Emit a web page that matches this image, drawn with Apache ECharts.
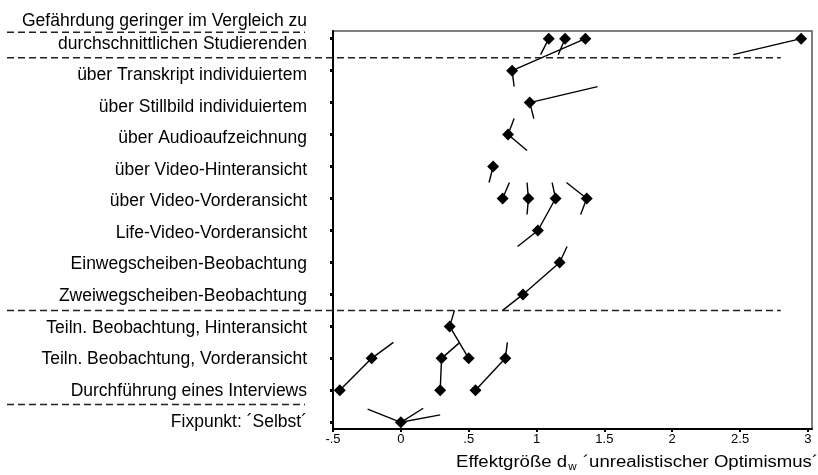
<!DOCTYPE html>
<html>
<head>
<meta charset="utf-8">
<script src="https://cdn.jsdelivr.net/npm/echarts@6/dist/echarts.min.js"></script>
<style>
html,body{margin:0;padding:0;background:#fff;}
#chart{width:818px;height:475px;}
</style>
</head>
<body>
<div id="chart"></div>
<script>
// Row labels, bottom (0) to top (12)
const rowLabels = [
  'Fixpunkt: ´Selbst´',
  'Durchführung eines Interviews',
  'Teiln. Beobachtung, Vorderansicht',
  'Teiln. Beobachtung, Hinteransicht',
  'Zweiwegscheiben-Beobachtung',
  'Einwegscheiben-Beobachtung',
  'Life-Video-Vorderansicht',
  'über Video-Vorderansicht',
  'über Video-Hinteransicht',
  'über Audioaufzeichnung',
  'über Stillbild individuiertem',
  'über Transkript individuiertem',
  'durchschnittlichen Studierenden'
];
const topLabelFirstLine = 'Gefährdung geringer im Vergleich zu';

// x tick values and their printed labels
const xTicks = [-0.5, 0, 0.5, 1, 1.5, 2, 2.5, 3];
const xTickLabels = ['-.5', '0', '.5', '1', '1.5', '2', '2.5', '3'];

// Effect sizes (diamonds) per row, row index = position in array
const rowEffects = [
  [0.00],
  [-0.45, 0.29, 0.55],
  [-0.215, 0.30, 0.50, 0.77],
  [0.36],
  [0.90],
  [1.17],
  [1.01],
  [0.75, 0.94, 1.14, 1.37],
  [0.68],
  [0.79],
  [0.95],
  [0.82],
  [1.09, 1.21, 1.36, 2.95]
];

// connecting line pieces: [x1, row1, x2, row2]
const links = [
  [1.09, 12, 1.03, 11.5], [1.21, 12, 1.16, 11.5], [1.36, 12, 0.82, 11], [2.95, 12, 2.45, 11.5],
  [0.82, 11, 0.835, 10.5],
  [0.95, 10, 1.45, 10.5], [0.95, 10, 0.98, 9.5],
  [0.79, 9, 0.835, 9.5], [0.79, 9, 0.93, 8.5],
  [0.68, 8, 0.65, 7.5],
  [0.75, 7, 0.80, 7.5], [0.94, 7, 0.93, 7.5], [0.94, 7, 0.93, 6.5],
  [1.14, 7, 1.115, 7.5], [1.14, 7, 1.01, 6], [1.37, 7, 1.22, 7.5], [1.37, 7, 1.325, 6.5],
  [1.01, 6, 0.86, 5.5],
  [1.17, 5, 1.225, 5.5], [1.17, 5, 0.90, 4],
  [0.90, 4, 0.75, 3.5],
  [0.36, 3, 0.395, 3.5], [0.36, 3, 0.50, 2],
  [-0.215, 2, -0.055, 2.5], [-0.215, 2, -0.45, 1],
  [0.30, 2, 0.435, 2.5], [0.30, 2, 0.29, 1],
  [0.77, 2, 0.785, 2.5], [0.77, 2, 0.55, 1],
  [0, 0, -0.245, 0.41], [0, 0, 0.165, 0.44], [0, 0, 0.29, 0.23]
];

// group separators (row positions) and their right end (x value)
const separatorRows = [11.4, 3.5];
const separatorEndX = 2.8;
const shortSeparatorRows = [12.2, 0.56];

const FONT = 'Liberation Sans, Arial, sans-serif';
const rowIdx = rowLabels.map((_, i) => i);

const scatterData = [];
rowEffects.forEach((arr, r) => arr.forEach(x => scatterData.push([x, r])));

const chart = echarts.init(document.getElementById('chart'), null, {renderer: 'canvas'});

const option = {
  animation: false,
  backgroundColor: '#fff',
  grid: {
    left: 333, top: 31, width: 479, height: 398,
    show: true, borderColor: '#555', borderWidth: 1.5, backgroundColor: 'transparent'
  },
  xAxis: {
    type: 'value', min: -0.5, max: 3.03,
    splitLine: {show: false},
    axisLine: {show: true, onZero: false, lineStyle: {color: '#000', width: 2}},
    axisTick: {show: true, length: 3, lineStyle: {color: '#000', width: 2}, customValues: xTicks},
    axisLabel: {
      customValues: xTicks, margin: 4, color: '#000', fontSize: 13, fontFamily: FONT,
      formatter: v => { const i = xTicks.findIndex(t => Math.abs(t - v) < 1e-6); return i >= 0 ? xTickLabels[i] : ''; }
    }
  },
  yAxis: [
    {
      type: 'value', min: -0.21, max: 12.24,
      splitLine: {show: false},
      axisLine: {show: true, onZero: false, lineStyle: {color: '#000', width: 2}},
      axisTick: {show: true, length: 3, lineStyle: {color: '#000', width: 3}, customValues: rowIdx},
      axisLabel: {show: false}
    },
    {
      type: 'value', min: -0.213, max: 12.412, position: 'left', offset: 0,
      splitLine: {show: false},
      axisLine: {show: false}, axisTick: {show: false},
      axisLabel: {
        customValues: rowIdx, margin: 26, color: '#000', fontSize: 17.5, fontFamily: FONT,
        formatter: v => rowLabels[Math.round(v)] || ''
      }
    }
  ],
  series: [
    {
      type: 'custom',
      coordinateSystem: 'cartesian2d',
      xAxisIndex: 0, yAxisIndex: 0,
      data: links,
      clip: false,
      renderItem: (params, api) => {
        const p1 = api.coord([api.value(0), api.value(1)]);
        const p2 = api.coord([api.value(2), api.value(3)]);
        return {type: 'line', shape: {x1: p1[0], y1: p1[1], x2: p2[0], y2: p2[1]},
                style: {stroke: '#000', lineWidth: 1.4}};
      },
      z: 2
    },
    {
      type: 'scatter',
      xAxisIndex: 0, yAxisIndex: 0,
      data: scatterData,
      symbol: 'diamond',
      symbolSize: [12, 12],
      itemStyle: {color: '#000', opacity: 1},
      z: 3
    }
  ]
};
chart.setOption(option);

// separators and texts outside the plot area, positioned through the axes
const px = (x, y) => chart.convertToPixel({xAxisIndex: 0, yAxisIndex: 0}, [x, y]);
const dashStyle = {stroke: '#222', lineWidth: 1.5, lineDash: [7, 4]};
const graphics = [];
separatorRows.forEach(r => {
  const p = px(separatorEndX, r);
  graphics.push({type: 'line', shape: {x1: 7, y1: p[1], x2: p[0], y2: p[1]}, style: dashStyle, z: 10});
});
shortSeparatorRows.forEach(r => {
  const p = px(0, r);
  graphics.push({type: 'line', shape: {x1: 7, y1: p[1], x2: 305, y2: p[1]}, style: dashStyle, z: 10});
});
graphics.push({
  type: 'text', x: 307, y: 21,
  style: {text: topLabelFirstLine, fill: '#000', font: '17.5px ' + FONT, align: 'right', verticalAlign: 'middle'}
});
graphics.push({
  type: 'text', x: 456, y: 463, scaleX: 1.16, originX: 0, originY: 0,
  style: {
    text: '{a|Effektgröße d}{s|w}{a| ´unrealistischer Optimismus´}',
    align: 'left', verticalAlign: 'middle',
    rich: {
      a: {fontSize: 16, fontFamily: FONT, fill: '#000'},
      s: {fontSize: 10, fontFamily: FONT, fill: '#000', padding: [9, 1, 0, 1]}
    }
  }
});
chart.setOption({graphic: graphics});
</script>
</body>
</html>
